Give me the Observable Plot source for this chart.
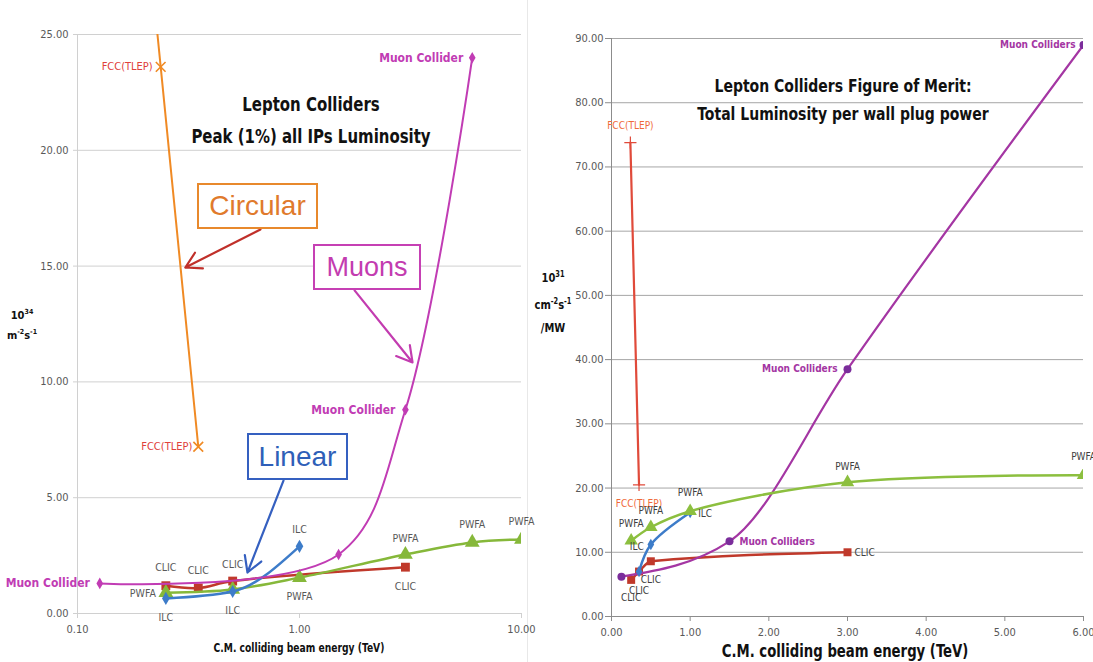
<!DOCTYPE html>
<html><head><meta charset="utf-8">
<script src="https://cdn.jsdelivr.net/npm/d3@7"></script>
<script src="https://cdn.jsdelivr.net/npm/@observablehq/plot@0.6"></script>
<style>
body{margin:0;background:#fff;}
#wrap{position:relative;width:1093px;height:662px;overflow:hidden;background:#fff;font-family:"Liberation Sans Narrow","DejaVu Sans Condensed","Open Sans",sans-serif;}
.abs{position:absolute;}
.title{font-weight:bold;color:#111;text-align:center;white-space:nowrap;}
.box{position:absolute;box-sizing:border-box;display:flex;align-items:center;justify-content:center;font-family:"Liberation Sans",Arial,sans-serif;background:#fff;}
.ylab{font-weight:bold;color:#111;text-align:center;white-space:nowrap;}
</style></head>
<body><div id="wrap">
<div class="abs" style="left:527px;top:0;width:1px;height:662px;background:#e8e8e8"></div>
<div id="left" class="abs" style="left:0;top:0"></div>
<div id="right" class="abs" style="left:540px;top:0"></div>

<div class="abs title" style="left:161px;top:88px;width:300px;font-size:19px;line-height:32px;transform:scaleX(0.875)">Lepton Colliders<br>Peak (1%) all IPs Luminosity</div>
<div class="box" style="left:197px;top:183px;width:121px;height:46px;border:2.5px solid #e8892c;color:#e07a2c;font-size:28px">Circular</div>
<div class="box" style="left:313px;top:244px;width:108px;height:46px;border:2.5px solid #c640b4;color:#c33cb0;font-size:27px">Muons</div>
<div class="box" style="left:247px;top:433px;width:101px;height:47px;border:2.5px solid #3560c0;color:#2f5fb8;font-size:28px">Linear</div>
<div class="abs ylab" style="left:4px;top:304px;width:36px;font-size:11px;line-height:17px">10<sup style="font-size:7px">34</sup><br>m<sup style="font-size:7px">-2</sup>s<sup style="font-size:7px">-1</sup></div>
<div class="abs title" style="left:149px;top:641px;width:300px;font-size:12px;transform:scaleX(0.85)">C.M. colliding beam energy (TeV)</div>

<div class="abs title" style="left:673px;top:72px;width:340px;font-size:17px;line-height:28px;transform:scaleX(0.915)">Lepton Colliders Figure of Merit:<br>Total Luminosity per wall plug power</div>
<div class="abs ylab" style="left:527px;top:263px;width:52px;font-size:12px;line-height:23px;transform:scaleX(0.92)">10<sup style="font-size:8px">31</sup><br>cm<sup style="font-size:8px">-2</sup>s<sup style="font-size:8px">-1</sup><br>/MW</div>
<div class="abs title" style="left:675px;top:642px;width:340px;font-size:17px;line-height:19px;transform:scaleX(0.866)">C.M. colliding beam energy (TeV)</div>
</div>
<script>
// ---------- Left panel: Peak (1%) all IPs luminosity, 10^34 m^-2 s^-1 ----------
const leftMuonE = [0.126, 1.5, 3, 6];
const leftMuonL = [1.3, 2.55, 8.8, 24.0];
const leftMuonNames = ["Muon Collider", "", "Muon Collider", "Muon Collider"];
const leftClicE = [0.25, 0.35, 0.5, 3];
const leftClicL = [1.2, 1.1, 1.4, 2.0];
const leftClicNames = ["CLIC", "CLIC", "CLIC", "CLIC"];
const leftPwfaE = [0.25, 0.5, 1, 3, 6, 10];
const leftPwfaL = [0.9, 1.04, 1.55, 2.55, 3.07, 3.2];
const leftPwfaNames = ["PWFA", "", "PWFA", "PWFA", "PWFA", "PWFA"];
const leftIlcE = [0.25, 0.5, 1];
const leftIlcL = [0.65, 0.95, 2.9];
const leftIlcNames = ["ILC", "ILC", "ILC"];
const leftFccE = [0.16, 0.237, 0.35];   // first point lies above the 25 top of the axis
const leftFccL = [40, 23.6, 7.2];
const leftFccNames = ["", "FCC(TLEP)", "FCC(TLEP)"];
const leftXTicks = [0.1, 1, 10];
const leftYTicks = [0, 5, 10, 15, 20, 25];
// annotation arrows (data units): Circular, Muons, Linear
const arrowNames = ["Circular", "Muons", "Linear"];
const arrowE1 = [0.667, 1.77, 0.847];
const arrowL1 = [16.58, 13.95, 5.74];
const arrowE2 = [0.306, 3.23, 0.583];
const arrowL2 = [14.94, 10.84, 1.77];

// ---------- Right panel: luminosity per wall plug power, 10^31 cm^-2 s^-1 / MW ----------
const rMuonE = [0.126, 1.5, 3, 6];
const rMuonL = [6.2, 11.7, 38.5, 89];
const rMuonNames = ["", "Muon Colliders", "Muon Colliders", "Muon Colliders"];
const rClicE = [0.25, 0.35, 0.5, 3];
const rClicL = [5.7, 7.0, 8.6, 10.0];
const rClicNames = ["CLIC", "CLIC", "CLIC", "CLIC"];
const rPwfaE = [0.25, 0.5, 1, 3, 6];
const rPwfaL = [11.8, 13.9, 16.4, 20.9, 22.0];
const rPwfaNames = ["PWFA", "PWFA", "PWFA", "PWFA", "PWFA"];
const rIlcE = [0.35, 0.5, 1];
const rIlcL = [7.0, 11.2, 16.2];
const rIlcNames = ["", "ILC", "ILC"];
const rFccE = [0.24, 0.35];
const rFccL = [73.8, 20.5];
const rFccNames = ["FCC(TLEP)", "FCC(TLEP)"];
const rXTicks = [0, 1, 2, 3, 4, 5, 6];
const rYTicks = [0, 10, 20, 30, 40, 50, 60, 70, 80, 90];

const FONT = '"Liberation Sans Narrow","DejaVu Sans Condensed","Open Sans",sans-serif';
const rows = (xs, ys, names) => xs.map((x, i) => ({x, y: ys[i], t: names ? names[i] : ""}));

function labels(xs, ys, names, place, style) {
  const out = [];
  names.forEach((t, i) => {
    if (!t) return;
    const p = place[i];
    out.push(Plot.text([{x: xs[i], y: ys[i], t}], {
      x: "x", y: "y", text: "t", dx: p[0], dy: p[1], textAnchor: p[2] || "middle",
      fontSize: 10.5, fill: "#595959", ...style
    }));
  });
  return out;
}

function series(xs, ys, color, symbol, r, width, extra = {}) {
  const d = rows(xs, ys);
  const open = symbol === "times" || symbol === "plus";
  return [
    Plot.line(d, {x: "x", y: "y", stroke: color, strokeWidth: width, curve: extra.curve || "catmull-rom", clip: true}),
    Plot.dot(d, {x: "x", y: "y", symbol, r, fill: open ? "none" : (extra.fill || color),
                 stroke: open ? color : "none", strokeWidth: 1.6, clip: true})
  ];
}

// ---------------- Left chart ----------------
const red = "#c0392b", green = "#86b83a", blue = "#3d7cc9", magenta = "#c13cb4", orange = "#f08a24";
const arrowColors = ["#c0302a", "#c33cb0", "#3560c0"];
const arrowRows = arrowNames.map((n, i) => ({n, x1: arrowE1[i], y1: arrowL1[i], x2: arrowE2[i], y2: arrowL2[i], c: arrowColors[i]}));

const left = Plot.plot({
  width: 530, height: 662,
  marginLeft: 77, marginRight: 9, marginTop: 34, marginBottom: 49,
  style: {fontFamily: FONT, fontSize: "11px", color: "#595959", background: "transparent", overflow: "visible"},
  x: {type: "log", domain: [0.1, 10]},
  y: {domain: [0, 25]},
  marks: [
    Plot.gridY(leftYTicks, {stroke: "#d0d0d0", strokeOpacity: 1}),
    Plot.ruleX([0.1], {stroke: "#d0d0d0"}),
    Plot.ruleY([0], {stroke: "#d0d0d0"}),
    Plot.axisY({ticks: leftYTicks, tickFormat: d => d.toFixed(2), tickSize: 4, tickPadding: 5, stroke: "#d0d0d0", label: null}),
    Plot.axisX({ticks: leftXTicks, tickFormat: d => d.toFixed(2), tickSize: 5, tickPadding: 7, stroke: "#d0d0d0", label: null}),
    ...series(leftFccE, leftFccL, orange, "times", 4.5, 2),
    ...series(leftClicE, leftClicL, red, "square", 5, 2.5),
    ...series(leftPwfaE, leftPwfaL, green, "triangle", 5.5, 2.5),
    ...series(leftIlcE, leftIlcL, blue, "diamond", 4, 2.5, {curve: "monotone-x"}),
    ...series(leftMuonE, leftMuonL, magenta, "diamond", 3.5, 2),
    Plot.arrow(arrowRows, {x1: "x1", y1: "y1", x2: "x2", y2: "y2", stroke: "c", strokeWidth: 2.2, headLength: 12}),
    ...labels(leftFccE, leftFccL, leftFccNames, [[0,0],[-8,0,"end"],[-6,0,"end"]], {fill: "#e0403a", fontSize: 11}),
    ...labels(leftMuonE, leftMuonL, leftMuonNames, [[-10,0,"end"],[0,0],[-10,0,"end"],[-9,0,"end"]], {fill: magenta, fontSize: 12, fontWeight: "bold"}),
    ...labels(leftClicE, leftClicL, leftClicNames, [[0,-18],[0,-17],[0,-16],[0,19]]),
    ...labels(leftPwfaE, leftPwfaL, leftPwfaNames, [[-10,1,"end"],[0,0],[0,19],[0,-16],[0,-18],[0,-18]]),
    ...labels(leftIlcE, leftIlcL, leftIlcNames, [[0,19],[0,19],[0,-17]])
  ]
});
document.getElementById("left").appendChild(left);

// ---------------- Right chart ----------------
const rRed = "#c0392b", rGreen = "#8cbf3f", rBlue = "#3d7cc9", rPurple = "#a436a3", rFcc = "#e04a3a";
const right = Plot.plot({
  width: 553, height: 662,
  marginLeft: 71, marginRight: 10, marginTop: 38, marginBottom: 46,
  style: {fontFamily: FONT, fontSize: "11px", color: "#595959", background: "transparent", overflow: "visible"},
  x: {domain: [0, 6]},
  y: {domain: [0, 90]},
  marks: [
    Plot.gridY(rYTicks, {stroke: "#a6a6a6", strokeOpacity: 1}),
    Plot.ruleX([0], {stroke: "#8c8c8c"}),
    Plot.ruleY([0], {stroke: "#8c8c8c"}),
    Plot.axisY({ticks: rYTicks, tickFormat: d => d.toFixed(2), tickSize: 6, tickPadding: 2, stroke: "#8c8c8c", label: null}),
    Plot.axisX({ticks: rXTicks, tickFormat: d => d.toFixed(2), tickSize: 5, tickPadding: 7, stroke: "#8c8c8c", label: null}),
    Plot.line(rows(rFccE, rFccL), {x: "x", y: "y", stroke: rFcc, strokeWidth: 2.2}),
    Plot.dot(rows(rFccE, rFccL), {x: "x", y: "y", symbol: "plus", r: 4, stroke: rFcc, strokeWidth: 1.2}),
    ...series(rClicE, rClicL, rRed, "square", 4.5, 2.5, {curve: "monotone-x"}),
    ...series(rMuonE, rMuonL, rPurple, "circle", 4, 2.2, {fill: "#7b2d9b", curve: "monotone-x"}),
    ...series(rIlcE, rIlcL, rBlue, "diamond", 3.5, 2.5),
    ...series(rPwfaE, rPwfaL, rGreen, "triangle", 5, 2.5),
    ...labels(rFccE, rFccL, rFccNames, [[0,-17],[0,19]], {fill: "#ef6a3a", fontSize: 10}),
    ...labels(rMuonE, rMuonL, rMuonNames, [[0,0],[10,0,"start"],[-10,0,"end"],[-8,0,"end"]], {fill: rPurple, fontSize: 10, fontWeight: "bold"}),
    ...labels(rClicE, rClicL, rClicNames, [[0,18],[0,19],[0,19],[7,1,"start"]], {fontSize: 10, fill: "#404040"}),
    ...labels(rPwfaE, rPwfaL, rPwfaNames, [[0,-17],[0,-16],[0,-18],[0,-15],[0,-18]], {fontSize: 10, fill: "#404040"}),
    ...labels(rIlcE, rIlcL, rIlcNames, [[0,0],[-14,2],[8,1,"start"]], {fontSize: 10, fill: "#404040"})
  ]
});
document.getElementById("right").appendChild(right);
</script>
</body></html>
